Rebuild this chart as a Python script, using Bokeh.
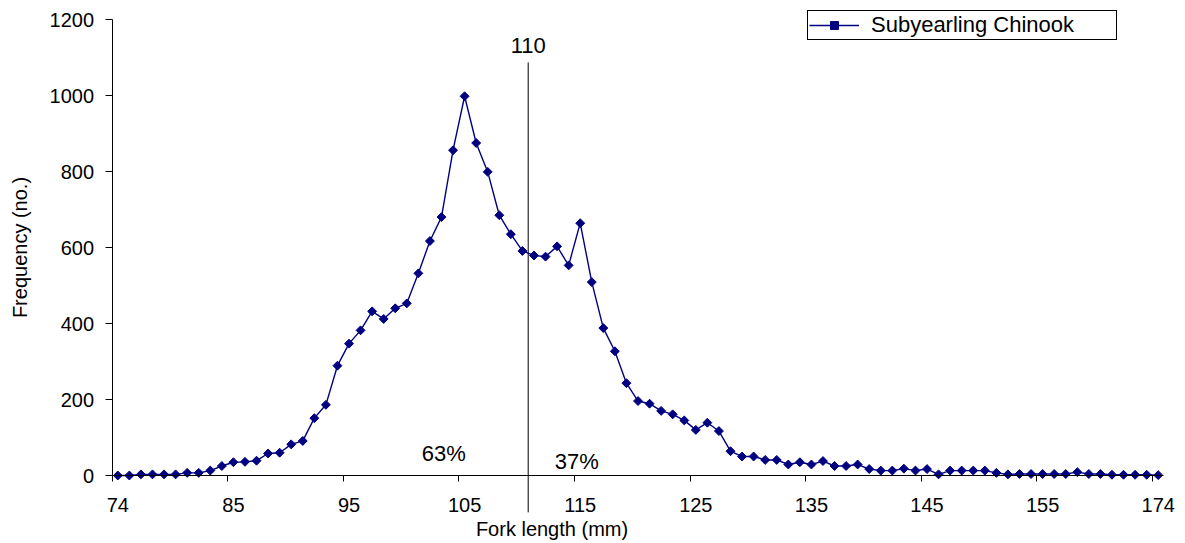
import math
from bokeh.plotting import figure
from bokeh.models import Range1d, FixedTicker, Label
from bokeh.embed import file_html
from bokeh.resources import INLINE
from bokeh.core.properties import value

# ---- data ----
freq = [0, 0, 3, 3, 3, 3, 7, 7, 13, 25,
        35, 36, 39, 58, 60, 82, 91, 151, 186, 289,
        347, 382, 432, 412, 440, 453, 532, 617, 680, 856,
        998, 875, 799, 685, 635, 591, 579, 576, 603, 553,
        664, 509, 388, 327, 243, 196, 189, 170, 161, 145,
        120, 139, 117, 64, 50, 50, 41, 41, 29, 35,
        29, 38, 25, 25, 29, 17, 13, 13, 18, 13,
        17, 3, 13, 13, 13, 13, 7, 3, 4, 4,
        4, 4, 4, 9, 4, 4, 2, 2, 2, 2,
        1]
category_index = list(range(len(freq)))
tick_positions = [0, 10, 20, 30, 40, 50, 60, 70, 80, 90]
tick_labels = ["74", "85", "95", "105", "115", "125", "135", "145", "155", "174"]
y_ticks = [0, 200, 400, 600, 800, 1000, 1200]
series_name = "Subyearling Chinook"
x_title = "Fork length (mm)"
y_title = "Frequency (no.)"
divider_label = "110"
divider_pos = 35.5
share_labels = ["63%", "37%"]
share_x = [28.2, 39.7]
share_y = [59, 37]

FONT = "Liberation Sans"
NAVY = "#000080"

W, H = 1185, 543
p = figure(frame_width=W, frame_height=H,
           min_border_left=0, min_border_right=0,
           min_border_top=0, min_border_bottom=0,
           x_range=Range1d(-10.147, 92.36), y_range=Range1d(-178.9, 1250),
           output_backend="svg", toolbar_location=None)

p.xgrid.visible = False
p.ygrid.visible = False
p.outline_line_color = None
p.background_fill_color = "white"
p.border_fill_color = "white"

# x axis, fixed at y = 0
xa = p.xaxis[0]
xa.fixed_location = 0
xa.bounds = (-0.5, 90.5)
xa.ticker = FixedTicker(ticks=tick_positions,
                        minor_ticks=[-0.5] + [t + 9.5 for t in tick_positions[:-1]])
xa.major_label_overrides = {t: l for t, l in zip(tick_positions, tick_labels)}
xa.major_tick_line_color = None
xa.major_tick_out = 0
xa.major_tick_in = 0
xa.minor_tick_line_color = "black"
xa.minor_tick_out = 6
xa.minor_tick_in = 0
xa.major_label_standoff = 16
xa.major_label_text_font = FONT
xa.major_label_text_font_size = "20px"
xa.major_label_text_color = "black"
xa.axis_line_color = "black"
xa.axis_line_width = 1

# y axis, fixed at the left edge of the first category
ya = p.yaxis[0]
ya.fixed_location = -0.5
ya.bounds = (0, 1200)
ya.ticker = FixedTicker(ticks=y_ticks)
ya.major_tick_out = 7
ya.major_tick_in = 0
ya.minor_tick_line_color = None
ya.major_tick_line_color = "black"
ya.axis_line_color = "black"
ya.major_label_standoff = 11
ya.major_label_text_font = FONT
ya.major_label_text_font_size = "20px"
ya.major_label_text_color = "black"

# divider line at 110 mm
p.segment(x0=[divider_pos], y0=[-97], x1=[divider_pos], y1=[1087],
          line_color="black", line_width=1)

# series
p.line(category_index, freq, line_color=NAVY, line_width=1.4, legend_label=series_name)
p.scatter(category_index, freq, marker="square", angle=math.pi / 4, size=6.3,
          fill_color=NAVY, line_color=NAVY, legend_label=series_name)

# annotations
p.text(x=[divider_pos], y=[1132], text=[divider_label], text_align="center",
       text_baseline="alphabetic", text_font=value(FONT), text_font_size="22px",
       text_color="black")
p.text(x=share_x, y=share_y, text=share_labels, text_align="center",
       text_baseline="alphabetic", text_font=value(FONT), text_font_size="22px",
       text_color="black")

# axis titles
p.add_layout(Label(x=37.56, y=-142, text=x_title, text_align="center",
                   text_baseline="alphabetic", text_font=FONT, text_font_size="20px",
                   text_color="black"))
p.add_layout(Label(x=-8.42, y=600, text=y_title, angle=math.pi / 2,
                   text_align="center", text_baseline="middle",
                   text_font=FONT, text_font_size="20px", text_color="black"))

leg = p.legend[0]
leg.location = (807, 503)
leg.padding = 1
leg.margin = 0
leg.spacing = 0
leg.border_line_color = "black"
leg.border_line_width = 1
leg.border_line_alpha = 1
leg.background_fill_alpha = 1
leg.label_text_font = FONT
leg.label_text_font_size = "22px"
leg.label_text_color = "black"
leg.glyph_width = 50
leg.glyph_height = 20
leg.label_standoff = 12
leg.label_width = 244
leg.label_height = 20

open("out.html", "w").write(file_html(p, INLINE))
